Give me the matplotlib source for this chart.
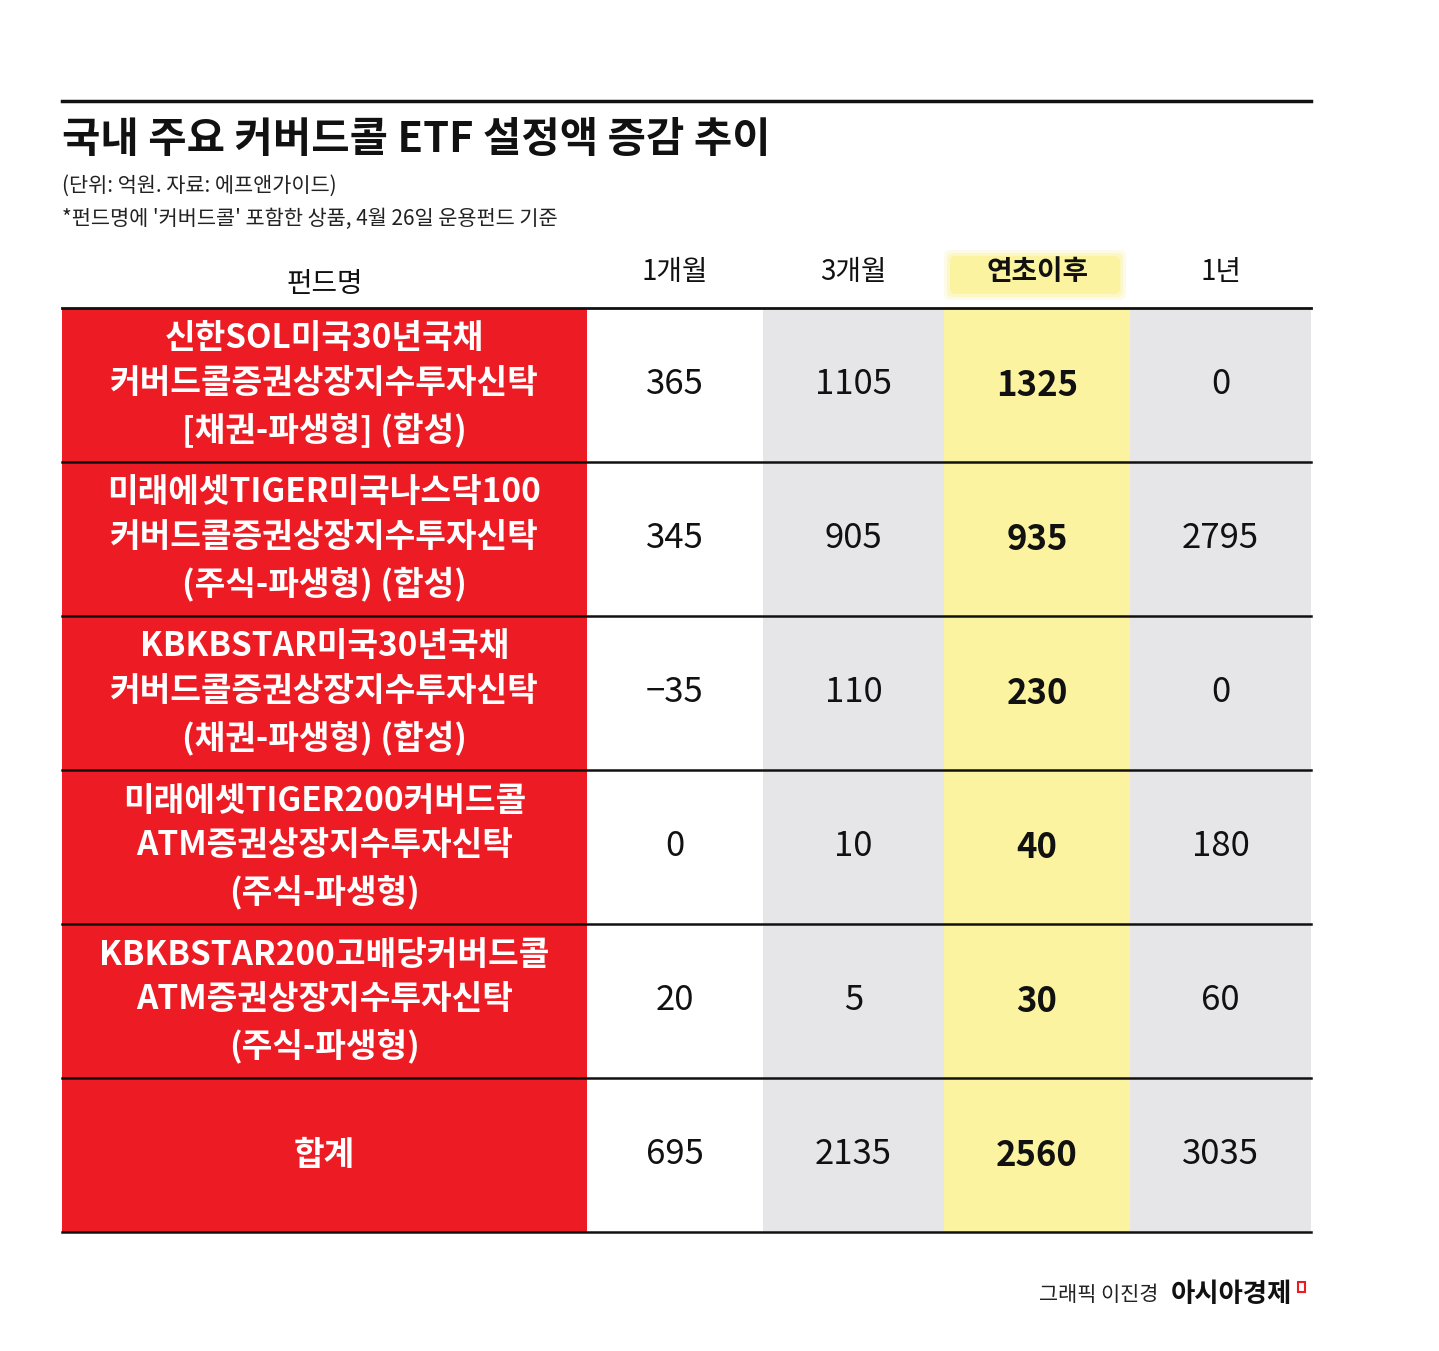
import matplotlib
matplotlib.use("Agg")
import matplotlib.pyplot as plt
from matplotlib.patches import Rectangle, FancyBboxPatch

plt.rcParams['font.family'] = ['Noto Sans CJK KR', 'DejaVu Sans']

TITLE = '국내 주요 커버드콜 ETF 설정액 증감 추이'
SUB1 = '(단위: 억원. 자료: 에프앤가이드)'
SUB2 = "*펀드명에 '커버드콜' 포함한 상품, 4월 26일 운용펀드 기준"
headers = ['펀드명', '1개월', '3개월', '연초이후', '1년']
funds = [
    '신한SOL미국30년국채\n커버드콜증권상장지수투자신탁\n[채권-파생형] (합성)',
    '미래에셋TIGER미국나스닥100\n커버드콜증권상장지수투자신탁\n(주식-파생형) (합성)',
    'KBKBSTAR미국30년국채\n커버드콜증권상장지수투자신탁\n(채권-파생형) (합성)',
    '미래에셋TIGER200커버드콜\nATM증권상장지수투자신탁\n(주식-파생형)',
    'KBKBSTAR200고배당커버드콜\nATM증권상장지수투자신탁\n(주식-파생형)',
    '합계',
]
m1 = [365, 345, -35, 0, 20, 695]
m3 = [1105, 905, 110, 10, 5, 2135]
ytd = [1325, 935, 230, 40, 30, 2560]
y1 = [0, 2795, 0, 180, 60, 3035]

RED = '#ED1C24'
GREY = '#E6E6E8'
YEL = '#FBF3A0'

fig = plt.figure(figsize=(14.39, 13.51), dpi=100)
ax = fig.add_axes([0, 0, 1, 1])
ax.set_xlim(0, 1439)
ax.set_ylim(1351, 0)
ax.axis('off')

ax.plot([62, 1311], [101, 101], color='#111', lw=2.5)
ax.text(62, 140, TITLE, fontsize=30, fontweight='bold', va='center', ha='left', color='#111')
ax.text(62, 186, SUB1, fontsize=15, va='center', ha='left', color='#222')
ax.text(62, 219, SUB2, fontsize=15, va='center', ha='left', color='#222')

col_x = [62, 587, 763, 944, 1130, 1311]
col_bg = [RED, 'white', GREY, YEL, GREY]
top, row_h = 308, 154
n = len(funds)

# column backgrounds
for j in range(5):
    ax.add_patch(Rectangle((col_x[j], top), col_x[j + 1] - col_x[j], row_h * n,
                           facecolor=col_bg[j], edgecolor='none'))

# header highlight
for k, a in enumerate([0.25, 0.45, 1.0]):
    pad = 6 - 3 * k
    ax.add_patch(FancyBboxPatch((950 - pad, 256 - pad), 170 + 2 * pad, 38 + 2 * pad,
                                boxstyle='round,pad=0,rounding_size=6',
                                facecolor=YEL, edgecolor='none', alpha=a))

centers = [(col_x[j] + col_x[j + 1]) / 2 for j in range(5)]
for j, h in enumerate(headers):
    ax.text(centers[j], 284 if j == 0 else 272, h, fontsize=20,
            fontweight='bold' if j == 3 else 'normal', ha='center', va='center', color='#111')

ax.plot([62, 1311], [308, 308], color='#111', lw=2)
cols = [m1, m3, ytd, y1]
for i in range(n):
    yc = top + row_h * (i + 0.5)
    ax.text(centers[0], yc, funds[i], fontsize=24, fontweight='bold', color='white',
            ha='center', va='center', linespacing=1.45)
    for j, vals in enumerate(cols):
        s = str(vals[i]).replace('-', '−')
        ax.text(centers[j + 1], yc, s, fontsize=25, ha='center', va='center', color='#111',
                fontweight='bold' if j == 2 else 'normal')
    ax.plot([62, 1311], [top + row_h * (i + 1)] * 2, color='#111', lw=1.8)

ax.text(1158, 1295, '그래픽 이진경', fontsize=15, ha='right', va='center', color='#222')
ax.text(1292, 1295, '아시아경제', fontsize=19, fontweight='bold', ha='right', va='center', color='#111')
ax.add_patch(Rectangle((1298, 1282), 7, 10, facecolor='white', edgecolor=RED, lw=1.5))

fig.savefig('out.png', dpi=100, facecolor='white')
